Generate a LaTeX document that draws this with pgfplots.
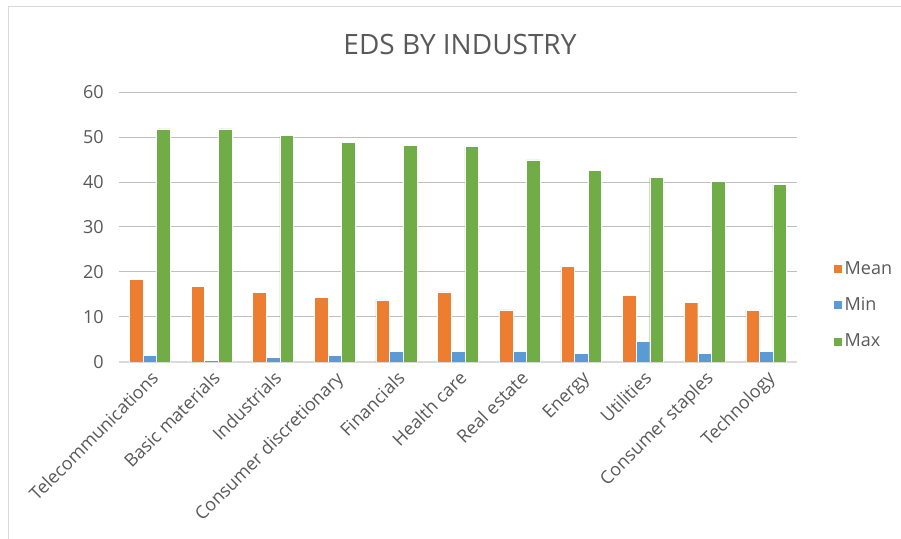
\documentclass[border=0pt]{standalone}
\usepackage{pgfplots}
\pgfplotsset{compat=1.18}
\usepackage{fontspec}
\setmainfont{Open Sans}
\definecolor{cMean}{HTML}{ED7D31}
\definecolor{cMin}{HTML}{5B9BD5}
\definecolor{cMax}{HTML}{70AD47}
\definecolor{grid}{HTML}{D9D9D9}
\definecolor{txt}{HTML}{595959}
\begin{document}
\begin{tikzpicture}
\begin{scope}[x=0.75pt,y=0.75pt]
\path[use as bounding box] (0,0) rectangle (901,539);
\draw[grid, line width=0.75pt] (8,0) -- (8,532) -- (901,532);
\node[txt, font=\fontsize{21pt}{24pt}\selectfont] at (460,494) {EDS BY INDUSTRY};
\end{scope}
\begin{axis}[
  at={(89.25pt,132.75pt)}, anchor=south west,
  scale only axis, width=508.5pt, height=202.5pt,
  ybar=0pt, bar width=10.2pt,
  xmin=-0.5, xmax=10.5, ymin=0, ymax=60,
  ytick={0,10,...,60},
  xtick={0,...,10},
  xticklabels={Telecommunications,Basic materials,Industrials,Consumer discretionary,Financials,Health care,Real estate,Energy,Utilities,Consumer staples,Technology},
  xticklabel style={rotate=45, anchor=north east, inner sep=1pt, xshift=-3pt, yshift=-3pt, font=\fontsize{13.5pt}{15pt}\selectfont, text=txt},
  yticklabel style={font=\fontsize{13.5pt}{15pt}\selectfont, text=txt, xshift=-8pt, /pgf/number format/assume math mode=true},
  major tick length=0pt,
  xmajorgrids=false, ymajorgrids=true, grid style={grid, line width=0.75pt},
  axis x line*=bottom, axis y line*=left,
  y axis line style={draw=none},
  x axis line style={draw=grid, line width=1.2pt, -},
  legend style={at={(1.052,0.211)}, anchor=west, draw=none, fill=none,
    font=\fontsize{13.5pt}{15pt}\selectfont, text=txt, row sep=12pt, inner sep=0pt},
  legend cell align=left,
  legend image code/.code={\fill[#1] (0pt,-3.4pt) rectangle (6.8pt,3.4pt);},
]
\addplot[fill=cMean, draw=white, line width=0.3pt] coordinates {(0,18.4) (1,16.8) (2,15.5) (3,14.4) (4,13.8) (5,15.6) (6,11.6) (7,21.3) (8,14.8) (9,13.3) (10,11.5)};
\addplot[fill=cMin, draw=white, line width=0.3pt] coordinates {(0,1.5) (1,0.4) (2,1.0) (3,1.5) (4,2.3) (5,2.3) (6,2.3) (7,1.9) (8,4.6) (9,1.9) (10,2.3)};
\addplot[fill=cMax, draw=white, line width=0.3pt] coordinates {(0,51.8) (1,51.8) (2,50.3) (3,48.8) (4,48.2) (5,48.0) (6,44.9) (7,42.6) (8,41.0) (9,40.2) (10,39.5)};
\legend{Mean,Min,Max}
\end{axis}
\end{tikzpicture}
\end{document}
